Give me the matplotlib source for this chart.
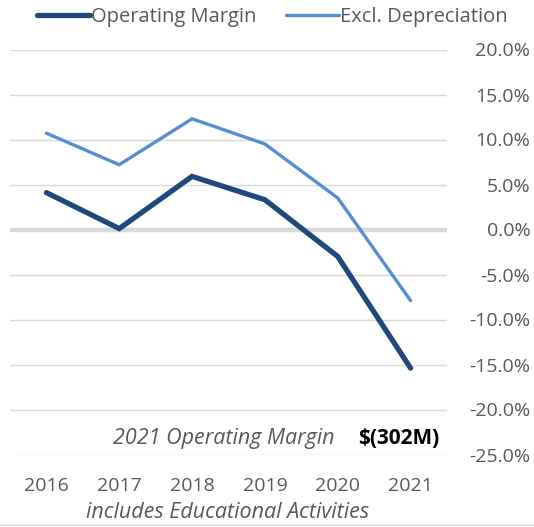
import matplotlib
matplotlib.use("Agg")
import matplotlib.pyplot as plt
from matplotlib.ticker import FuncFormatter

plt.rcParams['font.family'] = ['Open Sans', 'DejaVu Sans']

# ---- data ----
years = ["2016", "2017", "2018", "2019", "2020", "2021"]
operating_margin = [4.1, 0.1, 5.9, 3.3, -3.0, -15.4]
excl_depreciation = [10.7, 7.2, 12.3, 9.5, 3.5, -7.9]
y_ticks = [20, 15, 10, 5, 0, -5, -10, -15, -20, -25]

dark = "#1F497D"
light = "#558ED5"
grey_txt = "#595959"
grid_col = "#D9D9D9"

fig = plt.figure(figsize=(5.34, 5.27), dpi=100)
ax = fig.add_axes([10/534, 1 - 454.5/527, 437/534, 405/527])

# gridlines + thick zero line
for t in y_ticks:
    if t == 0:
        ax.axhline(t, color=grid_col, lw=3.2, zorder=1)
    else:
        ax.axhline(t, color=grid_col, lw=1.0, zorder=1)

x = range(len(years))
ax.plot(x, excl_depreciation, color=light, lw=2.4, solid_capstyle="round",
        solid_joinstyle="miter", label="Excl. Depreciation", zorder=3)
ax.plot(x, operating_margin, color=dark, lw=3.8, solid_capstyle="round",
        solid_joinstyle="miter", label="Operating Margin", zorder=4)

ax.set_xlim(-0.5, 5.5)
ax.set_ylim(-25, 20)
ax.set_xticks(list(x))
ax.set_xticklabels(years)
ax.set_yticks(y_ticks)
ax.yaxis.set_major_formatter(FuncFormatter(lambda v, p: f"{v:.1f}%"))
ax.yaxis.tick_right()
ax.tick_params(axis="both", length=0, labelsize=14, labelcolor=grey_txt)
ax.tick_params(axis="y", pad=60)
ax.tick_params(axis="x", pad=16)
for lab in ax.get_yticklabels():
    lab.set_horizontalalignment("right")
for s in ax.spines.values():
    s.set_visible(False)

# legend (order: Operating Margin first)
h, l = ax.get_legend_handles_labels()
fig.legend([h[1], h[0]], [l[1], l[0]], loc="center", bbox_to_anchor=(0.51, 1 - 17/527),
           ncol=2, frameon=False, fontsize=14.5, handlelength=2.6, handletextpad=0.05,
           columnspacing=1.5, labelcolor=grey_txt)

# annotation
ax.text(3.95, -23.2, "2021 Operating Margin", ha="right", va="center", fontsize=15.5,
        style="italic", color=grey_txt)
ax.text(5.4, -23.2, "$(302M)", ha="right", va="center", fontsize=15,
        fontweight="bold", color="black")

fig.text(228/534, 1 - 513/527, "includes Educational Activities", ha="center", va="center",
         fontsize=15.5, style="italic", color=grey_txt)

# bottom border line
fig.add_artist(plt.Line2D([0, 1], [1 - 524.5/527, 1 - 524.5/527], color=grid_col, lw=1.0))

fig.savefig("out.png", dpi=100)
